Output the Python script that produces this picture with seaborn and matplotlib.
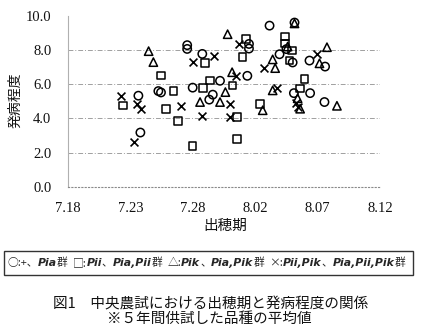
import matplotlib
matplotlib.use("Agg")
import matplotlib.pyplot as plt
import seaborn as sns
import pandas as pd
from matplotlib.patches import Rectangle

# Heading date is counted in days from July 1 (18 = 7.18, 33 = 8.02)
heading_ticks = [18, 23, 28, 33, 38, 43]
heading_tick_labels = ["7.18", "7.23", "7.28", "8.02", "8.07", "8.12"]
score_ticks = [0, 2, 4, 6, 8, 10]

# ○ : +, Pia group
pia_heading = [23.64, 23.8, 25.24, 25.45, 27.55, 27.55, 27.99, 28.76, 29.6, 29.32,
               30.18, 32.5, 32.5, 32.37, 34.15, 34.95, 35.5, 36.0, 36.1, 36.15,
               37.35, 37.4, 38.6, 38.55]
pia_score = [5.33, 3.18, 5.60, 5.52, 8.28, 8.06, 5.80, 7.77, 5.39, 5.10,
             6.20, 8.35, 8.08, 6.49, 9.42, 7.75, 8.05, 7.27, 5.48, 9.6,
             7.38, 5.48, 7.03, 4.96]

# □ : Pii, Pia,Pii group
pii_heading = [22.4, 25.43, 25.84, 26.44, 26.83, 27.99, 28.8, 29.0, 29.4, 31.17,
               31.55, 31.55, 32.24, 31.98, 33.38, 35.39, 35.39, 35.95, 35.75, 36.95,
               36.6]
pii_score = [4.75, 6.51, 4.57, 5.60, 3.86, 2.40, 5.77, 7.23, 6.22, 5.93,
             4.09, 2.79, 8.64, 7.60, 4.83, 8.79, 8.38, 7.97, 7.38, 6.31,
             5.74]

# △ : Pik, Pia,Pik group
pik_heading = [24.46, 24.84, 28.58, 30.18, 30.61, 30.79, 31.15, 33.6, 34.4, 34.6,
               34.4, 35.6, 36.15, 36.4, 36.6, 38.15, 38.75, 39.55]
pik_score = [7.93, 7.29, 4.96, 4.96, 5.54, 8.92, 6.70, 4.48, 7.45, 6.94,
             5.64, 8.2, 9.55, 5.18, 4.57, 7.22, 8.16, 4.74]

# × : Pii,Pik, Pia,Pii,Pik group
piipik_heading = [22.28, 23.5, 23.85, 23.3, 27.04, 27.99, 29.72, 28.75, 31.5, 30.98,
                  30.98, 31.7, 33.73, 34.72, 36.3, 36.45, 37.98]
piipik_score = [5.33, 4.85, 4.55, 2.62, 4.71, 7.29, 7.65, 4.13, 6.50, 4.82,
                4.09, 8.37, 6.94, 5.77, 4.88, 4.65, 7.77]

group_names = ["+、Pia群", "Pii、Pia,Pii群", "Pik、Pia,Pik群", "Pii,Pik、Pia,Pii,Pik群"]
group_markers = ["o", "s", "^", "x"]

frames = []
for name, xs, ys in zip(group_names,
                        [pia_heading, pii_heading, pik_heading, piipik_heading],
                        [pia_score, pii_score, pik_score, piipik_score]):
    frames.append(pd.DataFrame({"出穂期": xs, "発病程度": ys, "group": name}))
df = pd.concat(frames, ignore_index=True)

sns.set_theme(style="white")
plt.rcParams["font.family"] = ["Noto Sans CJK JP", "DejaVu Sans"]

W, H = 421, 335
fig = plt.figure(figsize=(W / 100, H / 100), dpi=100)
ax = fig.add_axes([68 / W, 1 - 187 / H, (380 - 68) / W, (187 - 15.7) / H])

for name, marker in zip(group_names, group_markers):
    sub = df[df["group"] == name]
    if marker == "x":
        sns.scatterplot(data=sub, x="出穂期", y="発病程度", marker="x", color="black",
                        s=32, linewidth=1.2, ax=ax, legend=False, zorder=3)
    else:
        size = 30 if marker == "s" else 36
        sns.scatterplot(data=sub, x="出穂期", y="発病程度", marker=marker,
                        facecolor="none", edgecolor="black", s=size, linewidth=1.1,
                        ax=ax, legend=False, zorder=3)

ax.set_xlim(heading_ticks[0], heading_ticks[-1])
ax.set_ylim(score_ticks[0], score_ticks[-1])
ax.set_xticks(heading_ticks)
ax.set_xticklabels(heading_tick_labels)
ax.set_yticks(score_ticks)
ax.set_yticklabels([f"{v:.1f}" for v in score_ticks])
ax.set_xlabel("")
ax.set_ylabel("")

for v in score_ticks[1:-1]:
    ax.axhline(v, color="#a0a0a0", linewidth=0.7, linestyle=(0, (5, 2, 1, 2)), zorder=1)

for side in ["top", "right"]:
    ax.spines[side].set_visible(False)
ax.spines["left"].set_color("#b0b0b0")
ax.spines["left"].set_linewidth(0.8)
ax.spines["bottom"].set_color("#8a8a8a")
ax.spines["bottom"].set_linewidth(0.8)
ax.spines["bottom"].set_linestyle((0, (1, 2)))

ax.tick_params(axis="x", direction="in", length=3, width=0.6, color="#777777",
               pad=11, labelsize=10.5, labelcolor="#111111")
ax.tick_params(axis="y", length=0, pad=12, labelsize=10.5, labelcolor="#111111")
for lab in ax.get_xticklabels() + ax.get_yticklabels():
    lab.set_family(["Liberation Serif", "DejaVu Serif"])

# Axis titles
fig.text(15 / W, 1 - 100 / H, "発病程度", rotation=90, ha="center", va="center",
         fontsize=10, color="#111111")
fig.text(225 / W, 1 - 226 / H, "出穂期", ha="center", va="center",
         fontsize=10.5, color="#111111")

# Marker key inside a framed box
box_left, box_right, box_top, box_bottom = 4, 413, 251, 275
fig.add_artist(Rectangle((box_left / W, 1 - box_bottom / H),
                         (box_right - box_left) / W, (box_bottom - box_top) / H,
                         transform=fig.transFigure, fill=False,
                         edgecolor="#333333", linewidth=1.0))

segments = [("○:+、", False), ("Pia", True), ("群", False), ("□:", False),
            ("Pii", True), ("、", False), ("Pia,Pii", True), ("群", False),
            ("△:", False), ("Pik", True), ("、", False), ("Pia,Pik", True),
            ("群", False), ("×:", False), ("Pii,Pik", True), ("、", False),
            ("Pia,Pii,Pik", True), ("群", False)]
gap_after = {2: 5, 7: 5, 12: 5}

renderer = fig.canvas.get_renderer()
key_texts = []
for txt, italic in segments:
    if italic:
        t = fig.text(0, 0, txt, style="italic", weight="bold",
                     family=["DejaVu Sans"], fontsize=8.0, va="center", ha="left")
    else:
        t = fig.text(0, 0, txt, family=["Noto Sans CJK JP", "DejaVu Sans"],
                     fontsize=8.0, va="center", ha="left")
    key_texts.append(t)


def layout_key(font_size):
    x = 7.0
    y = (box_top + box_bottom) / 2
    for i, t in enumerate(key_texts):
        t.set_fontsize(font_size)
        t.set_position((x / W, 1 - y / H))
        x += t.get_window_extent(renderer).width + gap_after.get(i, 0)
    return x - 7.0


total = layout_key(8.0)
layout_key(8.0 * (box_right - 11 - box_left) / total)

# Caption
fig.text(211 / W, 1 - 304 / H, "図1　中央農試における出穂期と発病程度の関係",
         ha="center", va="center", fontsize=10.5, color="#111111")
fig.text(209 / W, 1 - 319 / H, "※５年間供試した品種の平均値",
         ha="center", va="center", fontsize=10.5, color="#111111")

fig.savefig("out.png", dpi=100)
